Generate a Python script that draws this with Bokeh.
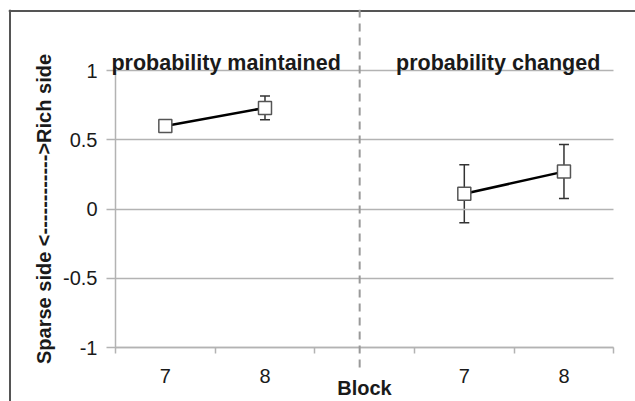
from bokeh.plotting import figure
from bokeh.models import (FixedTicker, CustomJSTickFormatter, Whisker, ColumnDataSource,
                          Label, Arrow, Range1d, TeeHead, Span)
from bokeh.embed import file_html
from bokeh.resources import INLINE

# ---- data ----
categories = ["7", "8", "", "7", "8"]
group_titles = ["probability maintained", "probability changed"]
maintained_idx = [0, 1]
maintained_mean = [0.60, 0.73]
maintained_err = [0.02, 0.085]
changed_idx = [3, 4]
changed_mean = [0.11, 0.27]
changed_err = [0.21, 0.195]
y_ticks = [-1, -0.5, 0, 0.5, 1]
y_label = "Sparse side <------------>Rich side"
x_label = "Block"

FONT = "Liberation Sans"
TXT = "#1a1a1a"
GRID = "#b3b3b3"

# ---- layout (pixels, canvas coordinates) ----
W, H = 635, 401
FR_L, FR_T = 8, 9                # plot frame corner
BOX_L, BOX_T = 9.5, 10.5         # framing box edges
AX_L, AX_R = 115.0, 613.3        # x of category range 0..5
AX_T, AX_B = 70.0, 347.0         # y of +1 / -1
ncat = len(categories)
ppx = (AX_R - AX_L) / ncat
ppy = (AX_B - AX_T) / 2.0
x_start = -(AX_L - FR_L) / ppx
x_end = ncat + (W - AX_R) / ppx
y_end = 1 + (AX_T - FR_T) / ppy
y_start = -1 - (H - AX_B) / ppy

p = figure(width=W, height=H, output_backend="svg", toolbar_location=None,
           x_range=Range1d(x_start, x_end), y_range=Range1d(y_start, y_end),
           min_border_left=FR_L, min_border_top=FR_T, min_border_right=0, min_border_bottom=0)
p.outline_line_color = None
p.background_fill_color = "white"
p.border_fill_color = "white"
p.xgrid.grid_line_color = None
p.ygrid.grid_line_color = None

# framing box: top and left edges (the rest runs off the page)
p.add_layout(Span(location=-(AX_L - BOX_L) / ppx, dimension="height",
                  line_color="#555555", line_width=2))
p.add_layout(Span(location=1 + (AX_T - BOX_T) / ppy, dimension="width",
                  line_color="#555555", line_width=2))

# x axis
p.xaxis.fixed_location = -1
p.xaxis.bounds = (0, ncat)
p.xaxis.ticker = FixedTicker(ticks=[i + 0.5 for i in range(ncat)],
                             minor_ticks=list(range(ncat + 1)))
p.xaxis.formatter = CustomJSTickFormatter(args=dict(labels=categories),
                                          code="return labels[Math.floor(tick)] || '';")
p.xaxis.major_tick_out = 0
p.xaxis.major_tick_in = 0
p.xaxis.minor_tick_out = 6
p.xaxis.minor_tick_in = 0
p.xaxis.minor_tick_line_color = GRID
p.xaxis.minor_tick_line_width = 1.5
p.xaxis.axis_line_color = GRID
p.xaxis.axis_line_width = 1.5
p.xaxis.major_label_standoff = 15
p.xaxis.major_label_text_font = FONT
p.xaxis.major_label_text_font_size = "20px"
p.xaxis.major_label_text_color = TXT
p.xaxis.axis_label = x_label
p.xaxis.axis_label_text_font = FONT
p.xaxis.axis_label_text_font_size = "20px"
p.xaxis.axis_label_text_font_style = "bold"
p.xaxis.axis_label_text_color = TXT
p.xaxis.axis_label_standoff = -9

# y axis (its inward ticks form the horizontal grid lines across the category span)
p.yaxis.fixed_location = 0
p.yaxis.bounds = (-1, 1)
p.yaxis.ticker = FixedTicker(ticks=y_ticks)
p.yaxis.formatter = CustomJSTickFormatter(code="return tick.toString();")
p.yaxis.major_tick_out = 9
p.yaxis.major_tick_in = int(round(AX_R - AX_L))
p.yaxis.minor_tick_line_color = None
p.yaxis.major_tick_line_color = GRID
p.yaxis.major_tick_line_width = 1.5
p.yaxis.axis_line_color = GRID
p.yaxis.axis_line_width = 1.5
p.yaxis.major_label_standoff = 9
p.yaxis.major_label_text_font = FONT
p.yaxis.major_label_text_font_size = "20px"
p.yaxis.major_label_text_color = TXT
p.yaxis.axis_label = y_label
p.yaxis.axis_label_text_font = FONT
p.yaxis.axis_label_text_font_size = "20px"
p.yaxis.axis_label_text_font_style = "bold"
p.yaxis.axis_label_text_color = TXT
p.yaxis.axis_label_standoff = 5

# divider (dashed) between the two conditions
p.add_layout(Arrow(end=None, x_start=2.45, y_start=y_end,
                   x_end=2.45, y_end=-1 - 21 / ppy,
                   line_color="#999999", line_width=2, line_dash="8 6"))

# series
for idx, mean, err, title, dx in [(maintained_idx, maintained_mean, maintained_err, group_titles[0], 0.11),
                                  (changed_idx, changed_mean, changed_err, group_titles[1], -0.16)]:
    xs = [i + 0.5 for i in idx]
    src = ColumnDataSource(dict(x=xs, y=mean,
                                upper=[m + e for m, e in zip(mean, err)],
                                lower=[m - e for m, e in zip(mean, err)]))
    p.add_layout(Whisker(source=src, base="x", upper="upper", lower="lower",
                         line_color="#333333", line_width=1.5,
                         upper_head=TeeHead(size=10, line_color="#333333", line_width=1.5),
                         lower_head=TeeHead(size=10, line_color="#333333", line_width=1.5)))
    p.line("x", "y", source=src, line_color="black", line_width=2.5)
    p.scatter("x", "y", source=src, marker="square", size=13, fill_color="white",
              line_color="#555555", line_width=1.5)
    p.add_layout(Label(x=sum(xs) / len(xs) + dx, y=1,
                       y_offset=8, text=title,
                       text_align="center", text_baseline="alphabetic",
                       text_font=FONT, text_font_size="21.5px", text_font_style="bold",
                       text_color=TXT))

open("out.html", "w").write(file_html(p, INLINE))
